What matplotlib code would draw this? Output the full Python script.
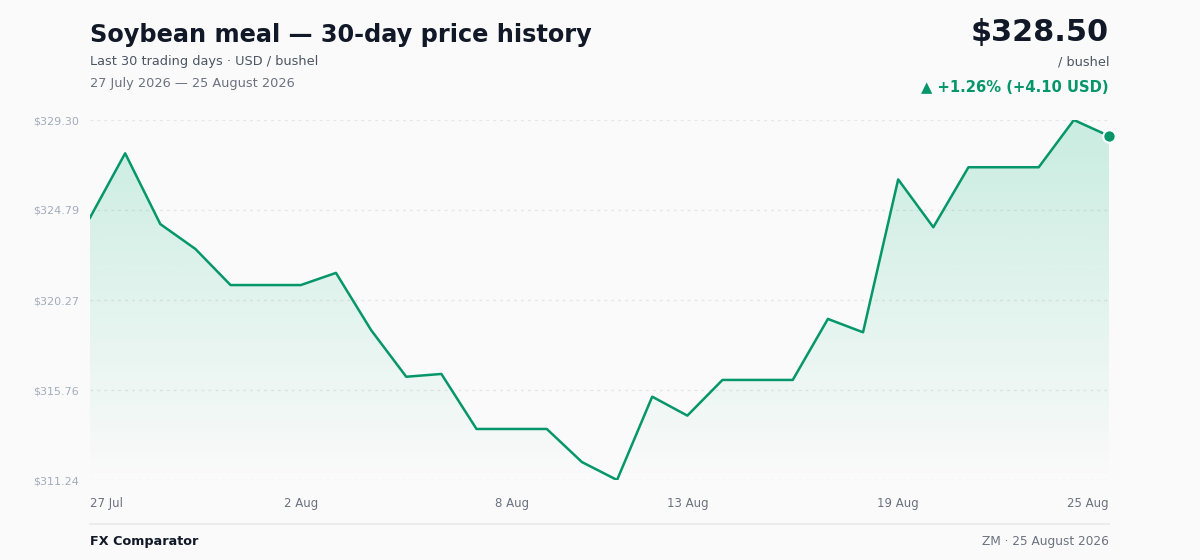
import matplotlib.pyplot as plt
import numpy as np
from matplotlib.colors import to_rgb

# data: 30 calendar days, 27 Jul - 25 Aug 2026
days = ['27 Jul', '28 Jul', '29 Jul', '30 Jul', '31 Jul', '1 Aug', '2 Aug', '3 Aug',
        '4 Aug', '5 Aug', '6 Aug', '7 Aug', '8 Aug', '9 Aug', '10 Aug', '11 Aug',
        '12 Aug', '13 Aug', '14 Aug', '15 Aug', '16 Aug', '17 Aug', '18 Aug', '19 Aug',
        '20 Aug', '21 Aug', '22 Aug', '23 Aug', '24 Aug', '25 Aug']
prices = [324.40, 327.63, 324.08, 322.83, 321.02, 321.02, 321.02, 321.63,
          318.76, 316.42, 316.56, 313.80, 313.80, 313.80, 312.14, 311.24,
          315.42, 314.47, 316.26, 316.26, 316.26, 319.32, 318.65, 326.32,
          323.92, 326.93, 326.93, 326.93, 329.30, 328.50]
tick_days = ['27 Jul', '2 Aug', '8 Aug', '13 Aug', '19 Aug', '25 Aug']

green = '#059669'
fill_green = '#10b981'
bg = '#fafafa'

W, H = 1200, 560
fig = plt.figure(figsize=(W / 100, H / 100), dpi=100, facecolor=bg)

def px(x, y):
    return x / W, 1 - y / H

ax = fig.add_axes([90 / W, 1 - 480 / H, (1109 - 90) / W, 360 / H])
ax.set_facecolor(bg)

x = np.arange(len(prices))
ymin, ymax = min(prices), max(prices)
ax.set_xlim(0, len(prices) - 1)
ax.set_ylim(ymin, ymax)

# gradient area under the line
poly = ax.fill_between(x, prices, ymin, color='none', lw=0)
grad = np.zeros((200, 2, 4))
grad[:, :, :3] = to_rgb(fill_green)
grad[:, :, 3] = np.linspace(0.21, 0.0, 200)[:, None]
img = ax.imshow(grad, extent=[0, len(prices) - 1, ymin, ymax], aspect='auto',
                origin='upper', zorder=1)
img.set_clip_path(poly.get_paths()[0], transform=ax.transData)

ax.plot(x, prices, color=green, lw=1.8, zorder=3)
ax.scatter([x[-1]], [prices[-1]], s=80, color=green, edgecolor='white',
           linewidth=1.5, zorder=4, clip_on=False)

yt = np.linspace(ymin, ymax, 5)
ax.set_yticks(yt)
ax.set_yticklabels(['$%.2f' % (v + 1e-7) for v in yt])
for v in yt:
    ax.axhline(v, color='#e6e6e6', lw=1, ls=(0, (2, 3)), zorder=0)

ax.set_xticks([days.index(d) for d in tick_days])
ax.set_xticklabels(tick_days)
labels = ax.get_xticklabels()
labels[0].set_ha('left')
labels[-1].set_ha('right')

ax.tick_params(axis='y', length=0, pad=8, labelsize=8, labelcolor='#a3acbd')
ax.tick_params(axis='x', length=0, pad=12, labelsize=8.5, labelcolor='#6b7280')
for s in ax.spines.values():
    s.set_visible(False)

# header
fig.text(*px(90, 42), 'Soybean meal \u2014 30-day price history', fontsize=17.3,
         fontweight='bold', color='#111827', va='baseline')
fig.text(*px(90, 65.5), 'Last 30 trading days \u00b7 USD / bushel', fontsize=9.3,
         color='#4b5563', va='baseline')
fig.text(*px(90, 87.5), '27 July 2026 \u2014 25 August 2026', fontsize=9.3,
         color='#6b7280', va='baseline')

fig.text(*px(1109, 41), '$328.50', fontsize=21.8, fontweight='bold',
         color='#111827', va='baseline', ha='right')
fig.text(*px(1109, 65.5), '/ bushel', fontsize=9.3, color='#4b5563',
         va='baseline', ha='right')
fig.text(*px(1109, 92), '\u25b2 +1.26% (+4.10 USD)', fontsize=10.6, fontweight='bold',
         color=green, va='baseline', ha='right')

# footer
fig.add_artist(plt.Line2D([90 / W, 1109 / W], [1 - 524 / H] * 2, color='#e8e8e8', lw=1.2))
fig.text(*px(90, 545.5), 'FX Comparator', fontsize=9.2, fontweight='bold',
         color='#111827', va='baseline')
fig.text(*px(1109, 545.5), 'ZM \u00b7 25 August 2026', fontsize=8.7,
         color='#6b7280', va='baseline', ha='right')

fig.savefig('out.png', dpi=100, facecolor=bg)
